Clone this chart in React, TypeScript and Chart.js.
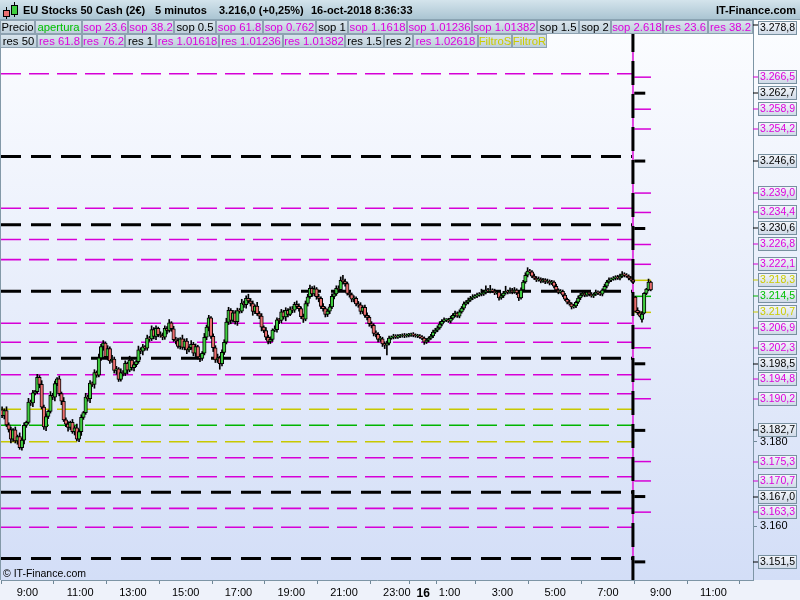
import { useEffect, useRef } from 'react';
import { Chart, registerables } from 'chart.js';

Chart.register(...registerables);

const FONT = '"Liberation Sans", Arial, Helvetica, sans-serif';

// ---------- time axis (minutes from 15-oct 00:00) ----------
const SESSION_START = 480; // 15-oct 8:00
const TODAY_START = 1920; // 16-oct 8:00
const BAR_MINUTES = 5;
const X_MIN = 480;
const X_MAX = 2190;
const xTickValues = [540, 660, 780, 900, 1020, 1140, 1260, 1380, 1440, 1500, 1620, 1740, 1860, 1980, 2100];
const dayChangeTick = 1440;
const dayChangeLabel = '16';

// ---------- price axis ----------
const Y_MIN = 3147.2;
const Y_MAX = 3280.3;
const plainYTicks = [3160, 3180];

// ---------- previous session candles (15-oct 8:00 -> 16-oct 7:55) ----------
const opens = [
  3187.6, 3186.2, 3187.4, 3184.0, 3182.9, 3180.6, 3182.8, 3180.2, 3181.2, 3178.6,
  3180.4, 3183.9, 3184.6, 3189.4, 3189.2, 3191.6, 3191.9, 3195.3, 3193.6, 3188.2,
  3183.5, 3186.0, 3187.2, 3191.0, 3190.6, 3193.8, 3194.9, 3191.4, 3189.6, 3185.2,
  3184.2, 3183.4, 3184.6, 3182.4, 3183.3, 3180.6, 3182.4, 3185.8, 3186.9, 3190.6,
  3190.2, 3193.9, 3193.6, 3196.4, 3195.8, 3199.9, 3202.6, 3203.4, 3200.2, 3202.1,
  3199.2, 3199.6, 3196.9, 3197.3, 3194.8, 3196.4, 3196.2, 3198.6, 3197.0, 3199.4,
  3197.6, 3198.3, 3199.0, 3201.8, 3201.5, 3202.5, 3202.2, 3204.6, 3204.4, 3206.6,
  3205.0, 3206.9, 3205.4, 3205.2, 3204.8, 3206.9, 3206.4, 3208.2, 3206.8, 3204.2,
  3204.0, 3202.6, 3204.4, 3202.4, 3203.9, 3201.8, 3202.3, 3203.1, 3201.0, 3202.6,
  3200.1, 3199.8, 3201.0, 3204.8, 3207.2, 3209.4, 3205.0, 3202.3, 3199.4, 3199.9,
  3198.5, 3201.2, 3203.6, 3208.4, 3211.2, 3208.8, 3210.6, 3208.5, 3211.1, 3211.0,
  3212.9, 3212.5, 3214.0, 3213.4, 3212.8, 3210.9, 3212.2, 3210.4, 3209.8, 3207.2,
  3206.4, 3204.8, 3203.8, 3204.3, 3206.5, 3206.6, 3208.9, 3208.8, 3210.8, 3209.6,
  3211.2, 3210.2, 3211.5, 3211.2, 3212.6, 3212.1, 3211.6, 3209.7, 3209.1, 3212.8,
  3214.4, 3216.4, 3215.1, 3216.3, 3214.4, 3214.0, 3212.1, 3211.6, 3210.2, 3211.0,
  3212.0, 3214.5, 3215.1, 3216.4, 3216.1, 3218.3, 3218.0, 3217.5, 3215.2, 3214.9,
  3213.8, 3214.0, 3212.7, 3212.5, 3210.9, 3211.9, 3210.0, 3209.5, 3208.0, 3207.6,
  3205.7, 3205.5, 3204.3, 3204.4, 3203.2, 3202.9, 3203.4, 3204.6, 3204.8, 3205.1,
  3204.8, 3205.1, 3205.1, 3205.3, 3205.1, 3205.3, 3205.3, 3205.5, 3205.3, 3205.1,
  3205.1, 3204.8, 3204.6, 3203.6, 3204.1, 3204.6, 3205.1, 3206.0, 3206.5, 3207.0,
  3207.9, 3208.6, 3208.9, 3208.9, 3208.6, 3209.3, 3210.0, 3210.5, 3209.8, 3210.8,
  3211.7, 3212.7, 3213.1, 3213.6, 3214.1, 3214.3, 3214.6, 3214.8, 3215.0, 3215.0,
  3215.5, 3216.0, 3215.7, 3216.0, 3215.7, 3215.3, 3215.5, 3214.1, 3214.6, 3215.3,
  3215.7, 3215.5, 3216.0, 3215.5, 3216.0, 3215.3, 3214.1, 3216.0, 3217.9, 3219.5,
  3220.5, 3220.3, 3219.3, 3218.8, 3218.4, 3218.6, 3218.1, 3218.4, 3217.9, 3218.1,
  3217.6, 3217.9, 3216.9, 3216.0, 3215.5, 3215.7, 3214.8, 3213.8, 3213.1, 3212.7,
  3212.0, 3212.2, 3213.1, 3214.1, 3214.8, 3215.3, 3214.8, 3215.5, 3215.0, 3214.6,
  3215.0, 3215.5, 3215.3, 3215.0, 3216.0, 3216.9, 3217.9, 3218.4, 3218.6, 3218.8,
  3219.1, 3218.8, 3219.3, 3219.8, 3219.5, 3219.3, 3218.8, 3218.4,
];
const highs = [
  3188.3, 3187.8, 3188.3, 3184.5, 3183.5, 3183.1, 3183.5, 3181.6, 3182.1, 3180.9,
  3184.5, 3184.9, 3190.3, 3189.9, 3192.2, 3192.2, 3196.0, 3195.7, 3194.5, 3188.7,
  3186.6, 3187.5, 3191.9, 3191.5, 3194.4, 3195.2, 3195.6, 3191.8, 3190.5, 3185.7,
  3184.8, 3184.9, 3185.3, 3183.7, 3184.2, 3182.9, 3186.4, 3187.2, 3191.5, 3191.1,
  3194.5, 3194.2, 3197.1, 3196.8, 3200.8, 3203.1, 3204.0, 3203.7, 3202.8, 3202.5,
  3200.5, 3200.1, 3197.9, 3197.6, 3197.3, 3196.9, 3199.2, 3198.9, 3200.3, 3199.9,
  3198.9, 3199.3, 3202.7, 3202.3, 3203.1, 3202.8, 3205.3, 3205.0, 3207.5, 3207.1,
  3207.5, 3207.2, 3206.1, 3205.8, 3207.5, 3207.3, 3209.0, 3208.5, 3207.4, 3204.8,
  3204.6, 3204.7, 3205.3, 3204.4, 3204.5, 3202.6, 3204.0, 3203.6, 3203.2, 3202.9,
  3200.8, 3201.4, 3205.7, 3207.7, 3210.0, 3209.7, 3205.6, 3202.8, 3200.8, 3200.3,
  3201.8, 3204.2, 3209.3, 3211.9, 3211.6, 3211.2, 3211.1, 3211.7, 3211.6, 3213.8,
  3213.4, 3214.6, 3215.0, 3214.0, 3213.4, 3212.5, 3213.1, 3210.9, 3210.4, 3207.5,
  3207.1, 3205.3, 3204.9, 3206.8, 3207.5, 3209.4, 3209.3, 3211.4, 3211.2, 3211.8,
  3211.6, 3212.0, 3212.1, 3213.1, 3213.4, 3212.7, 3212.0, 3210.3, 3213.4, 3215.0,
  3217.2, 3216.8, 3217.0, 3216.6, 3215.0, 3214.4, 3212.8, 3212.0, 3211.5, 3212.6,
  3215.1, 3215.6, 3217.0, 3217.0, 3219.1, 3219.5, 3218.6, 3217.9, 3215.8, 3215.3,
  3214.6, 3214.4, 3213.3, 3213.0, 3212.3, 3212.4, 3210.6, 3209.9, 3208.5, 3208.0,
  3206.3, 3205.9, 3205.0, 3204.8, 3203.7, 3203.9, 3205.1, 3205.1, 3205.5, 3205.4,
  3205.4, 3205.5, 3205.6, 3205.7, 3205.6, 3205.7, 3205.8, 3205.9, 3205.6, 3205.5,
  3205.4, 3205.2, 3204.9, 3204.5, 3204.9, 3205.5, 3206.5, 3206.9, 3207.5, 3208.5,
  3209.0, 3209.4, 3209.2, 3209.3, 3209.8, 3210.4, 3211.0, 3210.8, 3211.3, 3212.1,
  3213.2, 3213.5, 3214.1, 3214.5, 3214.9, 3214.9, 3215.3, 3215.4, 3216.2, 3215.9,
  3217.0, 3216.4, 3217.1, 3216.3, 3216.2, 3215.9, 3215.8, 3215.1, 3215.7, 3216.9,
  3216.0, 3216.5, 3216.4, 3216.6, 3216.3, 3215.7, 3216.5, 3218.3, 3220.1, 3221.3,
  3220.9, 3220.6, 3219.8, 3219.2, 3219.1, 3218.9, 3218.8, 3218.7, 3218.6, 3218.4,
  3218.3, 3218.2, 3217.4, 3216.3, 3216.1, 3216.0, 3215.2, 3214.1, 3213.6, 3213.0,
  3212.6, 3213.4, 3214.6, 3215.2, 3215.9, 3215.6, 3215.9, 3215.8, 3215.4, 3215.3,
  3216.0, 3215.8, 3215.7, 3216.3, 3217.4, 3218.3, 3218.9, 3218.9, 3219.2, 3219.4,
  3219.5, 3219.8, 3220.4, 3220.1, 3219.9, 3219.6, 3219.2, 3218.9,
];
const lows = [
  3185.7, 3185.4, 3183.6, 3182.3, 3179.7, 3180.1, 3179.7, 3179.4, 3178.2, 3178.0,
  3179.5, 3183.4, 3184.2, 3188.6, 3188.3, 3191.1, 3191.4, 3192.8, 3187.8, 3182.9,
  3182.6, 3185.5, 3186.8, 3190.0, 3189.7, 3193.3, 3190.9, 3188.8, 3184.8, 3183.6,
  3182.5, 3182.9, 3182.0, 3181.6, 3180.2, 3180.0, 3181.5, 3185.3, 3186.5, 3189.6,
  3189.3, 3193.1, 3192.7, 3195.3, 3195.4, 3199.3, 3201.7, 3199.7, 3199.4, 3198.6,
  3198.8, 3196.3, 3196.0, 3194.3, 3194.4, 3195.6, 3195.7, 3196.1, 3196.6, 3197.0,
  3196.8, 3197.8, 3198.6, 3200.9, 3200.6, 3201.7, 3201.7, 3203.8, 3204.0, 3204.4,
  3204.2, 3204.9, 3204.8, 3204.2, 3204.3, 3205.6, 3206.0, 3206.2, 3203.8, 3203.2,
  3202.2, 3202.0, 3201.9, 3201.8, 3200.9, 3201.3, 3201.9, 3200.4, 3200.2, 3199.6,
  3199.0, 3199.3, 3200.6, 3204.2, 3206.3, 3204.5, 3201.4, 3198.8, 3198.8, 3197.2,
  3198.0, 3200.7, 3203.2, 3207.8, 3208.0, 3208.4, 3207.9, 3207.6, 3210.5, 3210.6,
  3211.9, 3211.7, 3212.9, 3212.2, 3210.0, 3210.4, 3210.0, 3209.2, 3206.3, 3205.9,
  3204.2, 3203.2, 3203.3, 3203.8, 3206.1, 3206.0, 3208.0, 3208.2, 3209.1, 3208.7,
  3209.6, 3209.9, 3210.6, 3210.7, 3211.6, 3211.0, 3209.2, 3208.3, 3208.7, 3212.2,
  3214.0, 3214.5, 3214.6, 3213.8, 3213.2, 3211.6, 3211.0, 3209.6, 3209.7, 3210.4,
  3211.6, 3213.9, 3214.7, 3215.5, 3215.7, 3217.4, 3216.9, 3214.8, 3214.3, 3213.2,
  3213.2, 3212.2, 3211.9, 3210.3, 3210.4, 3209.5, 3208.9, 3207.4, 3207.0, 3205.1,
  3204.9, 3203.7, 3203.8, 3202.6, 3202.1, 3200.6, 3203.0, 3204.3, 3204.4, 3204.5,
  3204.5, 3204.7, 3204.8, 3204.7, 3204.8, 3204.9, 3205.0, 3204.9, 3204.8, 3204.7,
  3204.5, 3204.2, 3203.1, 3203.3, 3203.7, 3204.3, 3204.7, 3205.7, 3206.1, 3206.7,
  3207.5, 3208.3, 3208.5, 3208.3, 3208.2, 3209.0, 3209.6, 3209.5, 3209.4, 3210.5,
  3211.3, 3212.4, 3212.7, 3213.3, 3213.7, 3214.0, 3214.2, 3214.5, 3214.6, 3214.7,
  3215.1, 3215.4, 3215.3, 3215.4, 3214.9, 3215.0, 3213.6, 3213.8, 3214.2, 3215.0,
  3215.1, 3215.2, 3215.1, 3215.2, 3214.9, 3213.5, 3213.8, 3215.6, 3217.6, 3219.1,
  3220.0, 3218.9, 3218.5, 3218.0, 3218.1, 3217.7, 3217.8, 3217.5, 3217.6, 3217.2,
  3217.3, 3216.5, 3215.7, 3215.1, 3215.2, 3214.4, 3213.5, 3212.7, 3212.4, 3211.5,
  3211.7, 3211.8, 3212.8, 3213.7, 3214.5, 3214.4, 3214.5, 3214.6, 3214.3, 3214.2,
  3214.7, 3214.9, 3214.7, 3214.6, 3215.7, 3216.5, 3217.6, 3218.0, 3218.3, 3218.4,
  3218.5, 3218.4, 3219.0, 3219.1, 3219.0, 3218.4, 3218.1, 3217.5,
];
const closes = [
  3186.2, 3187.4, 3184.0, 3182.9, 3180.6, 3182.8, 3180.2, 3181.2, 3178.6, 3180.4,
  3183.9, 3184.6, 3189.4, 3189.2, 3191.6, 3191.9, 3195.3, 3193.6, 3188.2, 3183.5,
  3186.0, 3187.2, 3191.0, 3190.6, 3193.8, 3194.9, 3191.4, 3189.6, 3185.2, 3184.2,
  3183.4, 3184.6, 3182.4, 3183.3, 3180.6, 3182.4, 3185.8, 3186.9, 3190.6, 3190.2,
  3193.9, 3193.6, 3196.4, 3195.8, 3199.9, 3202.6, 3203.4, 3200.2, 3202.1, 3199.2,
  3199.6, 3196.9, 3197.3, 3194.8, 3196.4, 3196.2, 3198.6, 3197.0, 3199.4, 3197.6,
  3198.3, 3199.0, 3201.8, 3201.5, 3202.5, 3202.2, 3204.6, 3204.4, 3206.6, 3205.0,
  3206.9, 3205.4, 3205.2, 3204.8, 3206.9, 3206.4, 3208.2, 3206.8, 3204.2, 3204.0,
  3202.6, 3204.4, 3202.4, 3203.9, 3201.8, 3202.3, 3203.1, 3201.0, 3202.6, 3200.1,
  3199.8, 3201.0, 3204.8, 3207.2, 3209.4, 3205.0, 3202.3, 3199.4, 3199.9, 3198.5,
  3201.2, 3203.6, 3208.4, 3211.2, 3208.8, 3210.6, 3208.5, 3211.1, 3211.0, 3212.9,
  3212.5, 3214.0, 3213.4, 3212.8, 3210.9, 3212.2, 3210.4, 3209.8, 3207.2, 3206.4,
  3204.8, 3203.8, 3204.3, 3206.5, 3206.6, 3208.9, 3208.8, 3210.8, 3209.6, 3211.2,
  3210.2, 3211.5, 3211.2, 3212.6, 3212.1, 3211.6, 3209.7, 3209.1, 3212.8, 3214.4,
  3216.4, 3215.1, 3216.3, 3214.4, 3214.0, 3212.1, 3211.6, 3210.2, 3211.0, 3212.0,
  3214.5, 3215.1, 3216.4, 3216.1, 3218.3, 3218.0, 3217.5, 3215.2, 3214.9, 3213.8,
  3214.0, 3212.7, 3212.5, 3210.9, 3211.9, 3210.0, 3209.5, 3208.0, 3207.6, 3205.7,
  3205.5, 3204.3, 3204.4, 3203.2, 3202.9, 3203.4, 3204.6, 3204.8, 3205.1, 3204.8,
  3205.1, 3205.1, 3205.3, 3205.1, 3205.3, 3205.3, 3205.5, 3205.3, 3205.1, 3205.1,
  3204.8, 3204.6, 3203.6, 3204.1, 3204.6, 3205.1, 3206.0, 3206.5, 3207.0, 3207.9,
  3208.6, 3208.9, 3208.9, 3208.6, 3209.3, 3210.0, 3210.5, 3209.8, 3210.8, 3211.7,
  3212.7, 3213.1, 3213.6, 3214.1, 3214.3, 3214.6, 3214.8, 3215.0, 3215.0, 3215.5,
  3216.0, 3215.7, 3216.0, 3215.7, 3215.3, 3215.5, 3214.1, 3214.6, 3215.3, 3215.7,
  3215.5, 3216.0, 3215.5, 3216.0, 3215.3, 3214.1, 3216.0, 3217.9, 3219.5, 3220.5,
  3220.3, 3219.3, 3218.8, 3218.4, 3218.6, 3218.1, 3218.4, 3217.9, 3218.1, 3217.6,
  3217.9, 3216.9, 3216.0, 3215.5, 3215.7, 3214.8, 3213.8, 3213.1, 3212.7, 3212.0,
  3212.2, 3213.1, 3214.1, 3214.8, 3215.3, 3214.8, 3215.5, 3215.0, 3214.6, 3215.0,
  3215.5, 3215.3, 3215.0, 3216.0, 3216.9, 3217.9, 3218.4, 3218.6, 3218.8, 3219.1,
  3218.8, 3219.3, 3219.8, 3219.5, 3219.3, 3218.8, 3218.4, 3217.9,
];

// ---------- today's candles (16-oct 8:00 -> 8:35) ----------
const todayOpens = [3214.3, 3211.2, 3210.6, 3209.0, 3210.5, 3215.2, 3216.0, 3217.9];
const todayHighs = [3214.5, 3211.8, 3211.0, 3210.9, 3215.4, 3216.4, 3218.6, 3218.1];
const todayLows = [3210.8, 3210.2, 3209.6, 3208.4, 3210.3, 3214.9, 3215.8, 3215.8];
const todayCloses = [3210.9, 3210.6, 3209.8, 3210.3, 3215.2, 3216.2, 3217.9, 3216.0];

// ---------- levels ----------
const prevLevelValues = [3267.3, 3247.7, 3235.4, 3231.5, 3228.0, 3223.2, 3215.7, 3208.1, 3203.6, 3199.8, 3195.9, 3191.4, 3187.7, 3183.9, 3180.0, 3176.2, 3171.7, 3168.0, 3164.2, 3159.7, 3152.3];
const prevLevelKinds = ['m', 'k', 'm', 'k', 'm', 'm', 'k', 'm', 'm', 'k', 'm', 'm', 'y', 'g', 'y', 'm', 'm', 'k', 'm', 'm', 'k'];
const todayLevelValues = [3266.5, 3262.7, 3258.9, 3254.2, 3246.6, 3239.0, 3234.4, 3230.6, 3226.8, 3222.1, 3218.3, 3214.5, 3210.7, 3206.9, 3202.3, 3198.5, 3194.8, 3190.2, 3182.7, 3175.3, 3170.7, 3167.0, 3163.3, 3151.5];
const todayLevelKinds = ['m', 'k', 'm', 'm', 'k', 'm', 'm', 'k', 'm', 'm', 'y', 'g', 'y', 'm', 'm', 'k', 'm', 'm', 'k', 'm', 'm', 'k', 'm', 'k'];
const sessionHighLabel = 3278.8;
const SESSION_SPLIT = 1917;
const LEVEL_END_COLORED = 1958;
const LEVEL_END_BLACK = 1945;

// ---------- texts ----------
const headerParts = ['EU Stocks 50 Cash (2€)', '5 minutos', '3.216,0 (+0,25%)', '16-oct-2018 8:36:33'];
const siteName = 'IT-Finance.com';
const copyright = '© IT-Finance.com';
const buttonsRow1 = ['Precio', 'apertura', 'sop 23.6', 'sop 38.2', 'sop 0.5', 'sop 61.8', 'sop 0.762', 'sop 1', 'sop 1.1618', 'sop 1.01236', 'sop 1.01382', 'sop 1.5', 'sop 2', 'sop 2.618', 'res 23.6', 'res 38.2'];
const buttonsRow1Kinds = ['k', 'g', 'm', 'm', 'k', 'm', 'm', 'k', 'm', 'm', 'm', 'k', 'k', 'm', 'm', 'm'];
const buttonsRow2 = ['res 50', 'res 61.8', 'res 76.2', 'res 1', 'res 1.01618', 'res 1.01236', 'res 1.01382', 'res 1.5', 'res 2', 'res 1.02618', 'FiltroS', 'FiltroR'];
const buttonsRow2Kinds = ['k', 'm', 'm', 'k', 'm', 'm', 'm', 'k', 'k', 'm', 'y', 'y'];

// layout (pixels)
const HEADER_X = [23, 155, 219, 311];
const ROW1_BOUNDS = [0, 35, 82, 128, 174, 216, 263, 316, 348, 407, 472, 537, 579, 611, 663, 708, 753];
const ROW2_BOUNDS = [0, 37, 82, 125, 156, 219, 283, 345, 384, 413, 478, 512, 547];

const LINE_COLORS: Record<string, string> = { k: '#000000', m: '#d600d6', y: '#c8c800', g: '#00b400' };
const TEXT_COLORS: Record<string, string> = { k: '#000000', m: '#dd00dd', y: '#cccc00', g: '#00c000' };
const UP_COLOR = '#3fcd3f';
const DOWN_COLOR = '#ea6e6e';

function fmtPrice(v: number, decimals: number): string {
  const s = v.toFixed(decimals);
  const [ip, dp] = s.split('.');
  const grouped = ip.slice(0, -3) + '.' + ip.slice(-3);
  return dp ? grouped + ',' + dp : grouped;
}

function buildDatasets() {
  const bodies: any[] = [];
  const wicks: any[] = [];
  const colors: string[] = [];
  const push = (t: number, o: number, h: number, l: number, c: number) => {
    bodies.push({ x: t, y: [o, c] });
    wicks.push({ x: t, y: [l, h] });
    colors.push(c >= o ? UP_COLOR : DOWN_COLOR);
  };
  opens.forEach((o, i) => push(SESSION_START + BAR_MINUTES * i + 2.5, o, highs[i], lows[i], closes[i]));
  todayOpens.forEach((o, i) => push(TODAY_START + BAR_MINUTES * i + 2.5, o, todayHighs[i], todayLows[i], todayCloses[i]));

  const ds: any[] = [];
  prevLevelValues.forEach((v, i) => {
    const k = prevLevelKinds[i];
    ds.push({
      type: 'line',
      data: [{ x: X_MIN, y: v }, { x: SESSION_SPLIT, y: v }],
      borderColor: LINE_COLORS[k],
      borderWidth: k === 'k' ? 3 : 1.6,
      borderDash: k === 'k' ? [20, 10] : [20, 8],
      pointRadius: 0,
      fill: false,
      order: 6,
    });
  });
  todayLevelValues.forEach((v, i) => {
    const k = todayLevelKinds[i];
    ds.push({
      type: 'line',
      data: [{ x: TODAY_START, y: v }, { x: k === 'k' ? LEVEL_END_BLACK : LEVEL_END_COLORED, y: v }],
      borderColor: LINE_COLORS[k],
      borderWidth: k === 'k' ? 3 : 1.5,
      pointRadius: 0,
      fill: false,
      order: 6,
    });
  });
  // session separator
  ds.push({
    type: 'line',
    data: [{ x: SESSION_SPLIT, y: Y_MIN }, { x: SESSION_SPLIT, y: Y_MAX }],
    borderColor: '#e040e0',
    borderWidth: 2,
    pointRadius: 0,
    fill: false,
    order: 4,
  });
  ds.push({
    type: 'line',
    data: [{ x: SESSION_SPLIT, y: Y_MIN }, { x: SESSION_SPLIT, y: Y_MAX }],
    borderColor: '#000000',
    borderWidth: 3,
    borderDash: [24, 9],
    pointRadius: 0,
    fill: false,
    order: 3,
  });
  ds.push({
    type: 'bar',
    data: wicks,
    backgroundColor: '#000000',
    barThickness: 1,
    grouped: false,
    order: 2,
  });
  ds.push({
    type: 'bar',
    data: bodies,
    backgroundColor: colors,
    borderColor: '#000000',
    borderWidth: 1,
    borderSkipped: false,
    barThickness: 3.5,
    minBarLength: 1,
    grouped: false,
    order: 1,
  });
  return ds;
}

const backgroundPlugin = {
  id: 'bgPaint',
  beforeDraw(chart: any) {
    const { ctx, chartArea: ca } = chart;
    ctx.save();
    ctx.fillStyle = '#eef2fa';
    ctx.fillRect(0, 0, 800, 600);
    const g = ctx.createLinearGradient(0, ca.top, 0, ca.bottom);
    g.addColorStop(0, '#fcfdff');
    g.addColorStop(1, '#d3def7');
    ctx.fillStyle = g;
    ctx.fillRect(0, ca.top, 800, ca.bottom - ca.top);
    ctx.fillStyle = '#8399a8';
    ctx.fillRect(0, ca.top, 1, ca.bottom - ca.top);
    ctx.restore();
  },
};

function drawButtonRow(ctx: CanvasRenderingContext2D, labels: string[], kinds: string[], bounds: number[], y: number, h: number) {
  ctx.font = `11.3px ${FONT}`;
  ctx.textAlign = 'center';
  ctx.textBaseline = 'middle';
  labels.forEach((lab, i) => {
    const x0 = bounds[i];
    const x1 = bounds[i + 1];
    const g = ctx.createLinearGradient(0, y, 0, y + h);
    g.addColorStop(0, '#dbe6ee');
    g.addColorStop(1, '#bccdd9');
    ctx.fillStyle = g;
    ctx.fillRect(x0, y, x1 - x0, h);
    ctx.strokeStyle = '#8ea2b1';
    ctx.lineWidth = 1;
    ctx.strokeRect(x0 + 0.5, y + 0.5, x1 - x0 - 1, h - 1);
    ctx.fillStyle = TEXT_COLORS[kinds[i]];
    ctx.fillText(lab, (x0 + x1) / 2, y + h / 2 + 0.5);
  });
}

const overlayPlugin = {
  id: 'overlayPaint',
  afterDraw(chart: any) {
    const ctx: CanvasRenderingContext2D = chart.ctx;
    const yScale = chart.scales.y;
    const ca = chart.chartArea;
    ctx.save();

    // header bar
    const hg = ctx.createLinearGradient(0, 0, 0, 20);
    hg.addColorStop(0, '#d4e4ec');
    hg.addColorStop(1, '#a8c3d1');
    ctx.fillStyle = hg;
    ctx.fillRect(0, 0, 800, 20);
    ctx.fillStyle = '#8aa3b2';
    ctx.fillRect(0, 19, 800, 1);

    // icon: two little candles
    ctx.fillStyle = '#000';
    ctx.fillRect(6, 7, 1, 12);
    ctx.fillRect(14, 2, 1, 15);
    ctx.fillRect(3, 10, 7, 7);
    ctx.fillStyle = DOWN_COLOR;
    ctx.fillRect(4, 11, 5, 5);
    ctx.fillStyle = '#000';
    ctx.fillRect(11, 5, 7, 10);
    ctx.fillStyle = UP_COLOR;
    ctx.fillRect(12, 6, 5, 8);

    ctx.font = `bold 11px ${FONT}`;
    ctx.fillStyle = '#000';
    ctx.textBaseline = 'middle';
    ctx.textAlign = 'left';
    headerParts.forEach((t, i) => ctx.fillText(t, HEADER_X[i], 11));
    ctx.textAlign = 'right';
    ctx.fillText(siteName, 796, 11);

    // legend buttons
    drawButtonRow(ctx, buttonsRow1, buttonsRow1Kinds, ROW1_BOUNDS, 20, 14);
    drawButtonRow(ctx, buttonsRow2, buttonsRow2Kinds, ROW2_BOUNDS, 34, 14);

    // boxed price labels on the right axis
    const boxVals = [sessionHighLabel, ...todayLevelValues];
    const boxKinds = ['k', ...todayLevelKinds];
    ctx.font = `10.5px ${FONT}`;
    ctx.textAlign = 'left';
    ctx.textBaseline = 'middle';
    boxVals.forEach((v, i) => {
      const py = yScale.getPixelForValue(v);
      const cy = Math.max(py, 28);
      const k = boxKinds[i];
      ctx.fillStyle = LINE_COLORS[k];
      ctx.fillRect(ca.right, Math.round(py) - 0.5, 5, 1);
      const bx = 758;
      const bw = 39;
      const bh = 14;
      const by = Math.round(cy - bh / 2);
      const g = ctx.createLinearGradient(0, by, 0, by + bh);
      g.addColorStop(0, '#f6f8fc');
      g.addColorStop(1, '#cdd8e6');
      ctx.fillStyle = g;
      ctx.fillRect(bx, by, bw, bh);
      ctx.strokeStyle = '#7890a0';
      ctx.lineWidth = 1;
      ctx.strokeRect(bx + 0.5, by + 0.5, bw - 1, bh - 1);
      ctx.fillStyle = TEXT_COLORS[k];
      ctx.fillText(fmtPrice(v, 1), bx + 2, by + bh / 2 + 0.5);
    });

    // copyright
    ctx.font = `10.5px ${FONT}`;
    ctx.fillStyle = '#000';
    ctx.textAlign = 'left';
    ctx.textBaseline = 'alphabetic';
    ctx.fillText(copyright, 3, 577);
    ctx.restore();
  },
};

export default function App() {
  const ref = useRef<HTMLCanvasElement | null>(null);
  useEffect(() => {
    document.body.style.margin = '0';
    const canvas = ref.current;
    if (!canvas) return;
    Chart.defaults.font.family = FONT;
    const chart = new Chart(canvas, {
      type: 'bar',
      data: { datasets: buildDatasets() },
      options: {
        animation: false,
        responsive: false,
        maintainAspectRatio: false,
        events: [],
        layout: { padding: { left: 1, top: 19, right: 0, bottom: 0 } },
        plugins: {
          legend: { display: false },
          tooltip: { enabled: false },
          title: { display: false },
        },
        scales: {
          x: {
            type: 'linear',
            min: X_MIN,
            max: X_MAX,
            bounds: 'data',
            offset: false,
            afterBuildTicks: (s: any) => {
              s.ticks = xTickValues.map((v) => ({ value: v }));
            },
            afterFit: (s: any) => {
              s.height = 20;
            },
            grid: { display: true, drawOnChartArea: false, drawTicks: true, tickLength: 4, color: '#6f8797' },
            border: { display: true, color: '#7d95a5' },
            ticks: {
              autoSkip: false,
              maxRotation: 0,
              minRotation: 0,
              padding: 2,
              color: '#000',
              font: (c: any) =>
                c.tick && c.tick.value === dayChangeTick
                  ? { size: 12, weight: 'bold', family: FONT }
                  : { size: 11, family: FONT },
              callback: (v: any) => {
                const val = Number(v);
                if (val === dayChangeTick) return dayChangeLabel;
                return `${Math.round(val / 60) % 24}:00`;
              },
            },
          } as any,
          y: {
            type: 'linear',
            position: 'right',
            min: Y_MIN,
            max: Y_MAX,
            bounds: 'data',
            afterBuildTicks: (s: any) => {
              s.ticks = plainYTicks.map((v) => ({ value: v }));
            },
            afterFit: (s: any) => {
              s.width = 47;
            },
            grid: { display: true, drawOnChartArea: false, drawTicks: true, tickLength: 4, color: '#6f8797' },
            border: { display: true, color: '#7d95a5' },
            ticks: {
              padding: 3,
              color: '#000',
              font: { size: 11, family: FONT },
              callback: (v: any) => fmtPrice(Number(v), 0),
            },
          } as any,
        },
      } as any,
      plugins: [backgroundPlugin, overlayPlugin],
    });
    return () => chart.destroy();
  }, []);
  return (
    <div style={{ width: 800, height: 600 }}>
      <canvas ref={ref} width={800} height={600} style={{ display: 'block', width: 800, height: 600 }} />
    </div>
  );
}
